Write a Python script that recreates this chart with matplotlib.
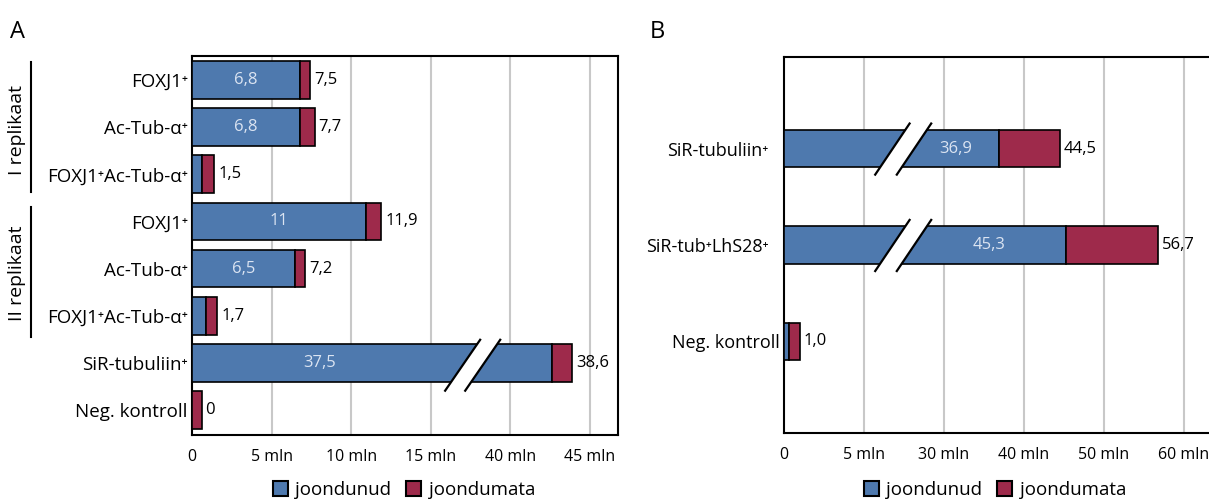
import matplotlib.pyplot as plt
import matplotlib.transforms as mtransforms
from matplotlib.patches import Patch, Polygon
from matplotlib.lines import Line2D

plt.rcParams['font.family'] = ['Open Sans', 'DejaVu Sans']

# andmed - paneel A
a_kategooriad = ['FOXJ1⁺', 'Ac-Tub-α⁺', 'FOXJ1⁺Ac-Tub-α⁺',
                 'FOXJ1⁺', 'Ac-Tub-α⁺', 'FOXJ1⁺Ac-Tub-α⁺',
                 'SiR-tubuliin⁺', 'Neg. kontroll']
a_joondunud = [6.8, 6.8, 0.65, 10.9, 6.5, 0.9, 42.6, 0.0]   # SiR loetud katkestatud teljelt
a_kokku = [7.4, 7.7, 1.4, 11.9, 7.1, 1.6, 43.9, 0.6]
a_sees = ['6,8', '6,8', '', '11', '6,5', '', '37,5', '']
a_silt = ['7,5', '7,7', '1,5', '11,9', '7,2', '1,7', '38,6', '0']
a_ticks = [0, 5, 10, 15, 40, 45]
a_ticklabels = ['0', '5 mln', '10 mln', '15 mln', '40 mln', '45 mln']

# andmed - paneel B
b_kategooriad = ['SiR-tubuliin⁺', 'SiR-tub⁺LhS28⁺', 'Neg. kontroll']
b_joondunud = [36.9, 45.3, 0.3]
b_kokku = [44.5, 56.7, 1.0]
b_sees = ['36,9', '45,3', '']
b_silt = ['44,5', '56,7', '1,0']
b_ticks = [0, 5, 30, 40, 50, 60]
b_ticklabels = ['0', '5 mln', '30 mln', '40 mln', '50 mln', '60 mln']

SININE = '#4e79ae'
PUNANE = '#9e2a4b'
HELE = '#dbe4f2'


# katkestatud telje teisendused
def xa(v):
    return v if v <= 15 else v - 20


def xb(v):
    return v if v <= 5 else 5 + (v - 20) / 2


def katkestus(ax, x0, yc, dx, vahe, all, yles):
    yb, yt = yc + all, yc - yles
    poly = Polygon([(x0, yb), (x0 + dx, yt), (x0 + dx + vahe, yt), (x0 + vahe, yb)],
                   closed=True, facecolor='white', edgecolor='none', zorder=4, clip_on=False)
    ax.add_patch(poly)
    for x in (x0, x0 + vahe):
        ax.add_line(Line2D([x, x + dx], [yb, yt], color='black', lw=1.6, zorder=5,
                           clip_on=False))


def joonista(ax, kat, joon, kokku, silt, f, korgus, ticks, ticklabels, kat_suurus):
    y = list(range(len(kat)))
    j = [f(v) for v in joon]
    k = [f(v) - f(jv) for v, jv in zip(kokku, joon)]
    ax.barh(y, j, height=korgus, color=SININE, edgecolor='black', linewidth=1.2, zorder=3)
    ax.barh(y, k, left=j, height=korgus, color=PUNANE, edgecolor='black', linewidth=1.2, zorder=3)
    for i in y:
        ax.text(j[i] + k[i] + 0.25, i, silt[i], va='center', ha='left', fontsize=12, zorder=6)
    ax.set_yticks(y)
    ax.set_yticklabels(kat, fontsize=kat_suurus)
    ax.set_xticks([f(t) for t in ticks])
    ax.set_xticklabels(ticklabels, fontsize=11.5)
    ax.tick_params(length=0)
    ax.tick_params(axis='x', pad=10)
    ax.tick_params(axis='y', pad=3)
    for t in ticks[1:]:
        ax.axvline(f(t), color='#c8c8c8', lw=1.5, zorder=1)
    for s in ax.spines.values():
        s.set_linewidth(1.5)
    return j


fig = plt.figure(figsize=(12.09, 4.99), dpi=100)

# paneel A
axA = fig.add_axes([192 / 1209, 1 - 435 / 499, 426 / 1209, 379 / 499])
jA = joonista(axA, a_kategooriad, a_joondunud, a_kokku, a_silt, xa, 0.8,
              a_ticks, a_ticklabels, 13.5)
axA.set_xlim(0, 426 / 15.92)
axA.set_ylim(7.53, -0.51)
katkestus(axA, 15.9, 6, 2.2, 1.26, 0.59, 0.49)
for i, s in enumerate(a_sees):
    if not s:
        continue
    xc = jA[i] / 2 if i != 6 else 8.0
    axA.text(xc, i, s, color=HELE, ha='center', va='center', fontsize=12, zorder=6)

# paneel B
axB = fig.add_axes([784 / 1209, 1 - 433 / 499, 432 / 1209, 376 / 499])
jB = joonista(axB, b_kategooriad, b_joondunud, b_kokku, b_silt, xb, 0.39,
              b_ticks, b_ticklabels, 13)
axB.set_xlim(0, 27)
axB.set_ylim(2.95, -0.95)
for i in (0, 1):
    katkestus(axB, 5.7, i, 2.15, 1.35, 0.27, 0.26)
    axB.text((8.0 + jB[i]) / 2, i, b_sees[i], color=HELE, ha='center', va='center',
             fontsize=12, zorder=6)
# kaks ülemist silti on teljest kaugemal
nihe = mtransforms.ScaledTranslation(-11 / 100, 0, fig.dpi_scale_trans)
for lbl in axB.get_yticklabels()[:2]:
    lbl.set_transform(lbl.get_transform() + nihe)

# replikaatide sildid
fig.text(17 / 1209, 1 - 130 / 499, 'I replikaat', rotation=90, ha='center', va='center', fontsize=14)
fig.text(17 / 1209, 1 - 273 / 499, 'II replikaat', rotation=90, ha='center', va='center', fontsize=14)
fig.add_artist(Line2D([31 / 1209, 31 / 1209], [1 - 62 / 499, 1 - 192 / 499], color='black', lw=1.5))
fig.add_artist(Line2D([31 / 1209, 31 / 1209], [1 - 207 / 499, 1 - 337 / 499], color='black', lw=1.5))

fig.text(10 / 1209, 1 - 32 / 499, 'A', fontsize=17, va='center', ha='left')
fig.text(650 / 1209, 1 - 32 / 499, 'B', fontsize=17, va='center', ha='left')

# legendid
kasitsejad = [Patch(facecolor=SININE, edgecolor='black', linewidth=1.5),
              Patch(facecolor=PUNANE, edgecolor='black', linewidth=1.5)]
for xc in (404, 995):
    fig.legend(kasitsejad, ['joondunud', 'joondumata'], loc='center',
               bbox_to_anchor=(xc / 1209, 1 - 490 / 499), ncol=2, frameon=False,
               fontsize=13.5, handlelength=0.8, handleheight=0.8, handletextpad=0.4,
               columnspacing=0.8, borderpad=0)

fig.savefig('out.png', dpi=100)
